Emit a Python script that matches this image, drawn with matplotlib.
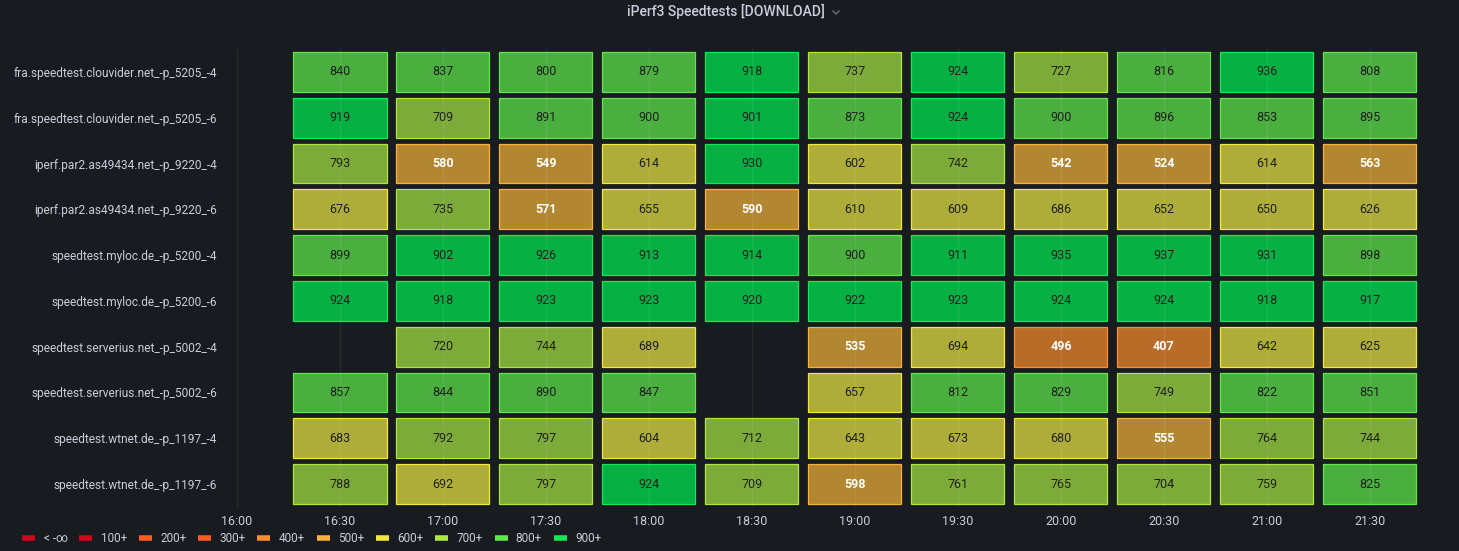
import matplotlib
matplotlib.use("Agg")
import matplotlib.pyplot as plt
from matplotlib.patches import Rectangle
from matplotlib.lines import Line2D
import numpy as np

plt.rcParams['font.family'] = ['Roboto', 'DejaVu Sans']

title = "iPerf3 Speedtests [DOWNLOAD]"
times = ["16:30", "17:00", "17:30", "18:00", "18:30", "19:00", "19:30", "20:00", "20:30", "21:00", "21:30"]
tick_labels = ["16:00"] + times
series_names = [
    "fra.speedtest.clouvider.net_-p_5205_-4",
    "fra.speedtest.clouvider.net_-p_5205_-6",
    "iperf.par2.as49434.net_-p_9220_-4",
    "iperf.par2.as49434.net_-p_9220_-6",
    "speedtest.myloc.de_-p_5200_-4",
    "speedtest.myloc.de_-p_5200_-6",
    "speedtest.serverius.net_-p_5002_-4",
    "speedtest.serverius.net_-p_5002_-6",
    "speedtest.wtnet.de_-p_1197_-4",
    "speedtest.wtnet.de_-p_1197_-6",
]
N = None
clouvider_4 = [840, 837, 800, 879, 918, 737, 924, 727, 816, 936, 808]
clouvider_6 = [919, 709, 891, 899.6, 901, 873, 924, 899.6, 896, 853, 895]
par2_4 = [793, 580, 549, 614, 930, 602, 742, 542, 524, 614, 563]
par2_6 = [676, 735, 571, 655, 590, 610, 609, 686, 652, 650, 626]
myloc_4 = [899, 902, 926, 913, 914, 899.6, 911, 935, 937, 931, 898]
myloc_6 = [924, 918, 923, 923, 920, 922, 923, 924, 924, 918, 917]
serverius_4 = [N, 720, 744, 689, N, 535, 694, 496, 407, 642, 625]
serverius_6 = [857, 844, 890, 847, N, 657, 812, 829, 749, 822, 851]
wtnet_4 = [683, 792, 797, 604, 712, 643, 673, 680, 555, 764, 744]
wtnet_6 = [788, 692, 797, 924, 709, 598, 761, 765, 704, 759, 825]
rows = [clouvider_4, clouvider_6, par2_4, par2_6, myloc_4, myloc_6,
        serverius_4, serverius_6, wtnet_4, wtnet_6]

legend_labels = ["< -∞", "100+", "200+", "300+", "400+", "500+", "600+", "700+", "800+", "900+"]
legend_colors = ["#d8001b", "#d8001b", "#ff5a1f", "#ff5a1f", "#ff8c2e", "#fbb03b",
                 "#f0e83a", "#aee83c", "#5fe84a", "#15e855"]
thresholds = [-np.inf, 100, 200, 300, 400, 500, 600, 700, 800, 900]
fill_colors = ["#a8101e", "#a8101e", "#b8502a", "#b8502a", "#b96c28", "#b38731",
               "#afad3a", "#7dab3a", "#4aaf3f", "#07b043"]
edge_colors = legend_colors

BG = "#181b1f"
TXT = "#ccccdc"

fig = plt.figure(figsize=(14.59, 5.51), dpi=100, facecolor=BG)
ax = fig.add_axes([237 / 1459, 1 - 507 / 551, (1420 - 237) / 1459, 458 / 551], facecolor=BG)

def tmin(s):
    h, m = s.split(":")
    return (int(h) - 16) * 60 + int(m)

xs = [tmin(t) for t in times]
cell_w = 27.1
cell_h = 0.87
nrows = len(rows)
for i, row in enumerate(rows):
    yc = nrows - 1 - i
    for x, v in zip(xs, row):
        if v is None:
            continue
        b = max(k for k, t in enumerate(thresholds) if v >= t)
        ax.add_patch(Rectangle((x - cell_w / 2, yc - cell_h / 2), cell_w, cell_h,
                               facecolor=fill_colors[b], edgecolor=edge_colors[b],
                               linewidth=0.9, zorder=2))
        white = v < 600
        ax.text(x, yc, f"{round(v):d}", ha="center", va="center",
                fontsize=9, color="#ffffff" if white else "#1e1e1e",
                fontweight="bold" if white else "normal", zorder=3)

# faint vertical grid lines at ticks
for t in tick_labels:
    ax.axvline(tmin(t), color="#ffffff", alpha=0.07, linewidth=1, zorder=4)

ax.set_xlim(0, 344.6)
ax.set_ylim(-0.5, nrows - 0.5)
ax.set_xticks([tmin(t) for t in tick_labels])
ax.set_xticklabels(tick_labels, fontsize=9)
ax.set_yticks(range(nrows))
ax.set_yticklabels(series_names[::-1], fontsize=8.6)
ax.tick_params(axis="both", length=0, colors=TXT)
ax.tick_params(axis="y", pad=14.5)
ax.tick_params(axis="x", pad=6)
for s in ax.spines.values():
    s.set_visible(False)

fig.text(0.4976, 0.993, title, ha="center", va="top", fontsize=10,
         color=TXT, fontweight="medium")
fig.add_artist(Line2D([833 / 1459, 836 / 1459, 839 / 1459],
                      [1 - 11 / 551, 1 - 14 / 551, 1 - 11 / 551],
                      color="#6e7078", linewidth=1))

handles = [Line2D([0], [0], color=c, linewidth=4, solid_capstyle="butt") for c in legend_colors]
leg = fig.legend(handles, legend_labels, loc="lower left", bbox_to_anchor=(0.008, -0.009),
                 ncol=10, frameon=False, fontsize=8.5, handlelength=1.1,
                 handletextpad=0.7, columnspacing=1.0, labelcolor=TXT)

fig.savefig("out.png", dpi=100, facecolor=BG)
